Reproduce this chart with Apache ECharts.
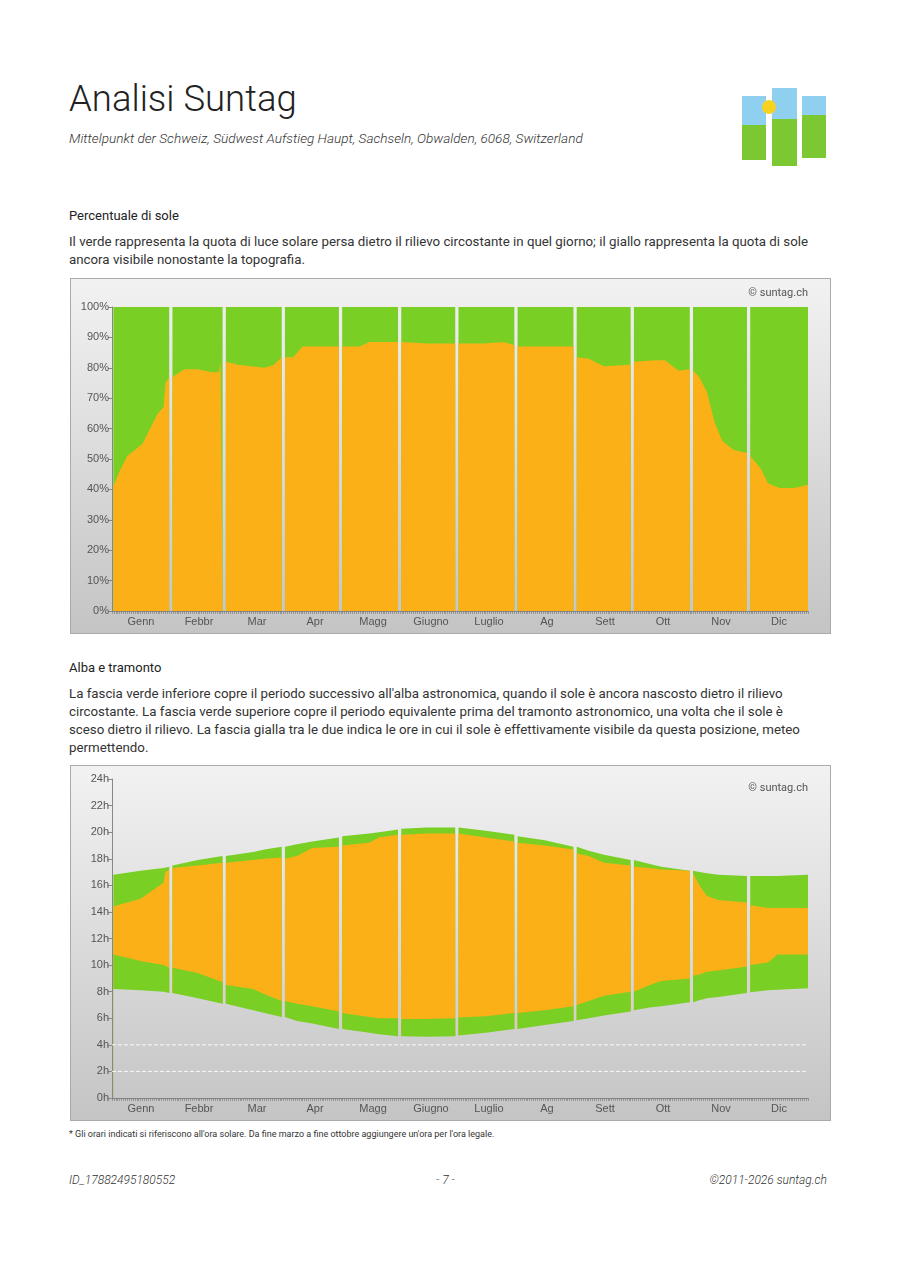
<!DOCTYPE html>
<html><head><meta charset="utf-8">
<script src="https://cdn.jsdelivr.net/npm/echarts@6/dist/echarts.min.js"></script>
<style>
body{margin:0;width:910px;height:1287px;background:#fff;font-family:Roboto,"Noto Sans",sans-serif;color:#222;position:relative;overflow:hidden}
.abs{position:absolute}
h1{position:absolute;left:69px;top:77px;margin:0;font-weight:300;font-size:36.5px;color:#222}
.sub{left:69px;top:130px;font-size:13.6px;font-style:italic;color:#333;font-weight:300}
.h{left:69px;font-size:13px;color:#222}
.p{left:69px;width:745px;font-size:13.3px;line-height:18px;color:#333}
.box{position:absolute;left:70px;width:761px;height:356px;border:1px solid #aaa;box-sizing:border-box}
.foot{top:1173px;font-size:12px;font-style:italic;color:#333;font-weight:300}
</style></head><body>
<h1>Analisi Suntag</h1>
<div class="abs sub">Mittelpunkt der Schweiz, Südwest Aufstieg Haupt, Sachseln, Obwalden, 6068, Switzerland</div>
<div class="abs" style="left:742px;top:96px;width:24px;height:64px;background:linear-gradient(#8fd0f0 0 45%,#7cc832 45%)"></div>
<div class="abs" style="left:772px;top:88px;width:25px;height:78px;background:linear-gradient(#8fd0f0 0 40%,#7cc832 40%)"></div>
<div class="abs" style="left:802px;top:96px;width:24px;height:62px;background:linear-gradient(#8fd0f0 0 30%,#7cc832 30%)"></div>
<div class="abs" style="left:762px;top:100px;width:14px;height:14px;border-radius:50%;background:#f7d21e"></div>
<div class="abs h" style="top:208px">Percentuale di sole</div>
<div class="abs p" style="top:233px">Il verde rappresenta la quota di luce solare persa dietro il rilievo circostante in quel giorno; il giallo rappresenta la quota di sole ancora visibile nonostante la topografia.</div>
<div class="box" id="c1" style="top:278px"></div>
<div class="abs h" style="top:660px">Alba e tramonto</div>
<div class="abs p" style="top:685px">La fascia verde inferiore copre il periodo successivo all'alba astronomica, quando il sole è ancora nascosto dietro il rilievo circostante. La fascia verde superiore copre il periodo equivalente prima del tramonto astronomico, una volta che il sole è sceso dietro il rilievo. La fascia gialla tra le due indica le ore in cui il sole è effettivamente visibile da questa posizione, meteo permettendo.</div>
<div class="box" id="c2" style="top:765px"></div>
<div class="abs" style="left:69px;top:1129px;font-size:9px;color:#333">* Gli orari indicati si riferiscono all'ora solare. Da fine marzo a fine ottobre aggiungere un'ora per l'ora legale.</div>
<div class="abs foot" style="left:69px">ID_17882495180552</div>
<div class="abs foot" style="left:436px">- 7 -</div>
<div class="abs foot" style="right:83px">©2011-2026 suntag.ch</div>
<script>
const months=['Genn','Febbr','Mar','Apr','Magg','Giugno','Luglio','Ag','Sett','Ott','Nov','Dic'];
const monthStarts=[0,31,59,90,120,151,181,212,243,273,304,334,365];
const sunDays=[0,4,8,12,16,20,24,27,28,30, 31,38,45,52,56,57,58, 59,66,73,80,85,89, 90,95,100,110,119, 120,130,135,150, 151,165,180, 181,195,205,211, 212,225,242, 243,250,258,272, 273,285,290,297,303, 304,308,312,316,320,326,333, 334,340,344,350,358,364];
const sunPct=[41,46,51,53,55,60,65,67,75,77, 77,79.5,79.5,78.5,78.5,82,82, 82,81,80.5,80,81,83.5, 83.5,83.5,87,87,87, 87,87,88.5,88.5, 88.5,88,88, 88,88,88.5,87.5, 87,87,87, 83.5,83,80.5,81, 82,82.5,82.5,79,79.5, 79,77,72,62,56,53,52, 51,47,42,40.5,40.5,41.5];
const hDays=[0,15,27,28,30, 31,45,58, 59,74,80,89, 90,97,105,119, 120,135,140,150, 151,165,180, 181,196,211, 212,227,242, 243,250,258,272, 273,282,288,303, 304,308,312,318,333, 334,344,349,364];
const dawn=[8.2,8.1,8.0,7.95,7.9, 7.9,7.5,7.1, 7.1,6.6,6.4,6.1, 6.1,5.8,5.6,5.2, 5.2,4.9,4.8,4.65, 4.65,4.6,4.65, 4.7,4.9,5.2, 5.2,5.5,5.8, 5.85,6.0,6.2,6.5, 6.6,6.8,6.9,7.2, 7.2,7.35,7.5,7.6,7.9, 7.95,8.1,8.15,8.25];
const rise=[10.8,10.3,10.0,9.9,9.8, 9.8,9.4,8.7, 8.5,8.2,7.8,7.3, 7.3,7.1,6.9,6.5, 6.4,6.1,6.0,6.0, 5.95,5.95,6.0, 6.05,6.15,6.4, 6.4,6.6,6.9, 7.0,7.3,7.7,8.0, 8.0,8.5,8.8,9.0, 9.2,9.3,9.5,9.6,9.9, 10.0,10.2,10.8,10.8];
const sset=[14.4,15.0,16.2,17.0,17.2, 17.3,17.5,17.7, 17.7,17.9,18.0,18.1, 18.0,18.2,18.8,18.9, 19.0,19.2,19.6,19.8, 19.8,19.9,19.9, 19.9,19.6,19.3, 19.2,19.0,18.7, 18.4,18.2,17.7,17.5, 17.4,17.3,17.2,17.1, 16.9,16.0,15.2,14.9,14.7, 14.5,14.3,14.3,14.3];
const dusk=[16.8,17.1,17.3,17.35,17.4, 17.5,17.9,18.2, 18.2,18.5,18.7,18.9, 18.9,19.1,19.3,19.6, 19.7,19.9,20.0,20.2, 20.25,20.35,20.35, 20.35,20.1,19.8, 19.7,19.4,18.9, 18.9,18.6,18.3,17.9, 17.9,17.6,17.4,17.1, 17.1,17.0,16.9,16.8,16.7, 16.7,16.7,16.7,16.8];
const guideHours=[2,4];

const ORANGE='#fbb018',GREEN='#7acf24';
function monthOf(d){for(let i=11;i>=0;i--)if(d>=monthStarts[i])return i;return 0;}
function build(days,vals,noGap){
  const out=[];let prev=-1;
  days.forEach((d,i)=>{const m=monthOf(d);
    if(!noGap&&prev>=0&&m!==prev)out.push([d,null]);
    let x=d; if(d===monthStarts[m])x=d+0.7; if(d===364)x=365;
    out.push([x,vals[i]]);prev=m;});
  return out;
}
function bg(global){return {type:'linear',x:0,y:0,x2:0,y2:global?354:1,global:!!global,colorStops:[{offset:0,color:'#f2f2f2'},{offset:1,color:'#c4c4c4'}]};}
function axes(fmt,ymax,interval){
  return {
    xAxis:[{type:'value',min:0,max:365,interval:1,axisLine:{lineStyle:{color:'#888'}},axisTick:{length:3,lineStyle:{color:'#777',width:0.6}},axisLabel:{show:false},splitLine:{show:false}},
           {type:'category',data:months,position:'bottom',axisLine:{show:false},axisTick:{show:false},axisLabel:{color:'#555',fontSize:11,margin:5}}],
    yAxis:{type:'value',min:0,max:ymax,interval:interval,axisLine:{show:true,lineStyle:{color:'#888'}},axisTick:{show:true,length:4,lineStyle:{color:'#888'}},
      axisLabel:{formatter:fmt,color:'#555',fontSize:11,margin:3},splitLine:{show:false}}
  };
}
const area=(data,color,z)=>({type:'line',data:data,symbol:'none',z:z,lineStyle:{width:0},areaStyle:{color:color,opacity:1}});
const c1=echarts.init(document.getElementById('c1'));
c1.setOption(Object.assign({
  backgroundColor:bg(),animation:false,
  grid:{left:41,right:22,top:28,bottom:22},
  graphic:[{type:'text',right:22,top:9,style:{text:'© suntag.ch',fill:'#555',font:'11px Roboto'}}],
  series:[area(build(sunDays,sunDays.map(()=>100)),GREEN,2),area(build(sunDays,sunPct),ORANGE,3)]
},axes('{value}%',100,10)));

const c2=echarts.init(document.getElementById('c2'));
const guides=guideHours.map(h=>({type:'line',z:10,symbol:'none',silent:true,data:[[0,h],[365,h]],lineStyle:{color:'rgba(255,255,255,0.9)',type:'dashed',width:1}}));
c2.setOption(Object.assign({
  backgroundColor:bg(),animation:false,
  grid:{left:41,right:22,top:13,bottom:22},
  graphic:[{type:'text',right:22,top:17,style:{text:'© suntag.ch',fill:'#555',font:'11px Roboto'}}],
  series:[area(build(hDays,dusk),GREEN,2),area(build(hDays,sset),ORANGE,3),area(build(hDays,rise),GREEN,4),area(build(hDays,dawn,true),bg(true),5)].concat(guides)
},axes('{value}h',24,2)));
</script></body></html>
